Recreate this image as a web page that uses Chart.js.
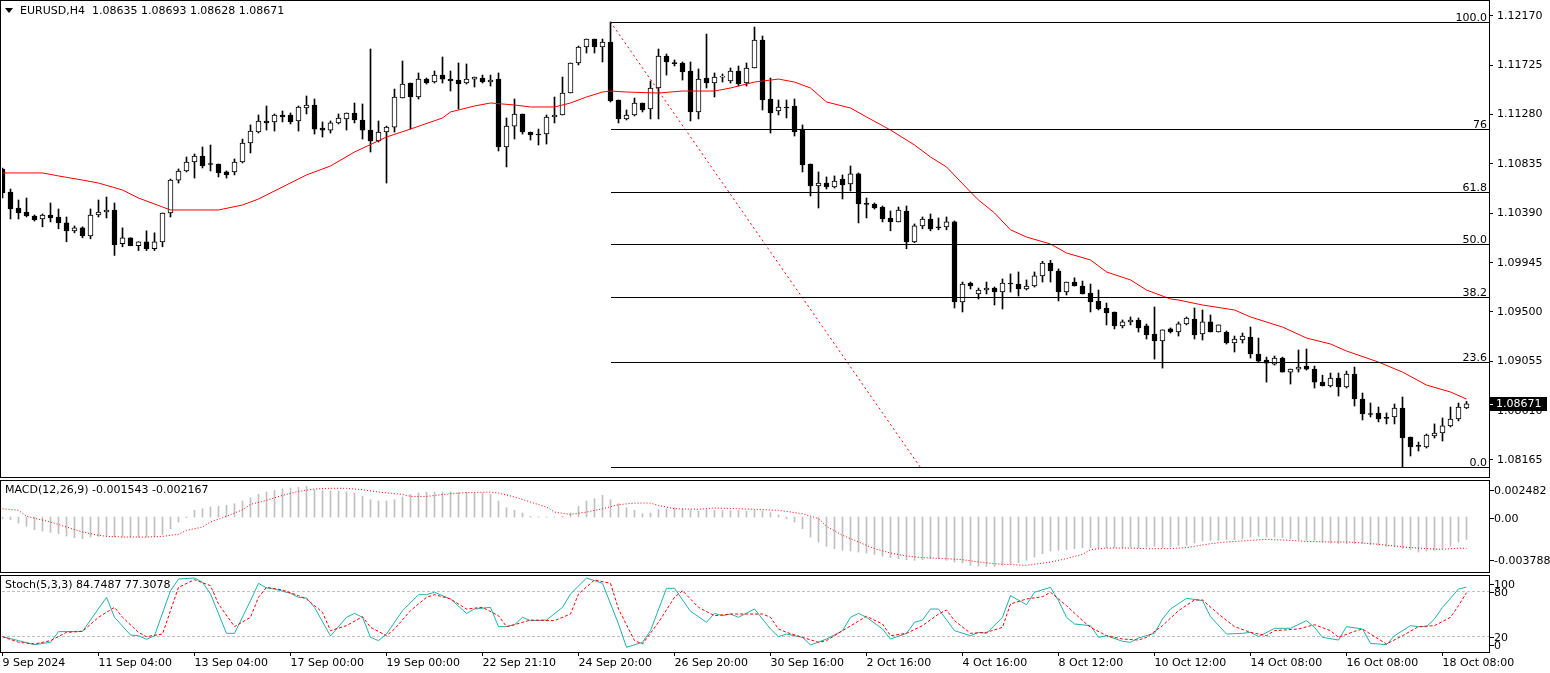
<!DOCTYPE html>
<html>
<head>
<meta charset="utf-8">
<script src="https://cdn.jsdelivr.net/npm/chart.js@4.4.1/dist/chart.umd.min.js"></script>
<style>
  html, body { margin: 0; padding: 0; background: #fff; overflow: hidden; }
  canvas { position: absolute; left: 0; }
  #main { top: 0; }
  #macd { top: 478px; }
  #stoch { top: 575px; }
</style>
</head>
<body>
<canvas id="main" width="1550" height="478"></canvas>
<canvas id="macd" width="1550" height="97"></canvas>
<canvas id="stoch" width="1550" height="98"></canvas>
<script>
// EURUSD H4 candles (one entry per bar)
const barOpen = [
  1.10790,1.10582,1.10438,1.10402,1.10366,1.10339,1.10375,1.10357,1.10303,1.10232,
  1.10259,1.10187,1.10375,1.10402,1.10420,1.10116,1.10169,1.10097,1.10133,1.10070,
  1.10133,1.10393,1.10690,1.10772,1.10853,1.10907,1.10835,1.10835,1.10763,1.10763,
  1.10853,1.11024,1.11123,1.11223,1.11214,1.11277,1.11277,1.11223,1.11340,1.11367,
  1.11159,1.11141,1.11205,1.11241,1.11295,1.11232,1.11141,1.11042,1.11123,1.11168,
  1.11430,1.11565,1.11439,1.11601,1.11574,1.11637,1.11601,1.11592,1.11565,1.11601,
  1.11610,1.11574,1.11601,1.10988,1.11177,1.11286,1.11123,1.11105,1.11105,1.11259,
  1.11277,1.11475,1.11746,1.11890,1.11962,1.11890,1.11935,1.11412,1.11241,1.11277,
  1.11385,1.11331,1.11520,1.11809,1.11746,1.11746,1.11674,1.11304,1.11610,1.11565,
  1.11619,1.11583,1.11674,1.11565,1.11701,1.11953,1.11421,1.11313,1.11349,1.11358,
  1.11150,1.10835,1.10636,1.10663,1.10627,1.10699,1.10654,1.10745,1.10474,1.10474,
  1.10447,1.10348,1.10312,1.10411,1.10133,1.10276,1.10339,1.10268,1.10268,1.10312,
  1.09590,1.09761,1.09662,1.09698,1.09716,1.09680,1.09761,1.09752,1.09707,1.09734,
  1.09825,1.09942,1.09870,1.09680,1.09770,1.09734,1.09671,1.09599,1.09536,1.09500,
  1.09374,1.09410,1.09428,1.09374,1.09301,1.09238,1.09347,1.09319,1.09392,1.09437,
  1.09301,1.09410,1.09319,1.09319,1.09220,1.09247,1.09274,1.09121,1.09066,1.09030,
  1.09084,1.08958,1.08985,1.09012,1.08985,1.08867,1.08832,1.08903,1.08823,1.08939,
  1.08715,1.08580,1.08589,1.08544,1.08553,1.08634,1.08372,1.08291,1.08282,1.08381,
  1.08408,1.08472,1.08535,1.08635
];
const barHigh = [
  1.10799,1.10609,1.10510,1.10528,1.10375,1.10384,1.10483,1.10429,1.10357,1.10276,
  1.10268,1.10429,1.10510,1.10537,1.10483,1.10259,1.10169,1.10133,1.10232,1.10214,
  1.10393,1.10699,1.10790,1.10898,1.10925,1.10988,1.11006,1.10835,1.10772,1.10880,
  1.11060,1.11187,1.11277,1.11358,1.11286,1.11313,1.11295,1.11358,1.11448,1.11421,
  1.11214,1.11223,1.11286,1.11295,1.11385,1.11376,1.11872,1.11223,1.11177,1.11511,
  1.11764,1.11565,1.11656,1.11610,1.11674,1.11800,1.11674,1.11746,1.11737,1.11619,
  1.11637,1.11637,1.11656,1.11250,1.11421,1.11286,1.11123,1.11150,1.11277,1.11439,
  1.11619,1.11746,1.11899,1.11962,1.11962,1.11962,1.12116,1.11412,1.11322,1.11430,
  1.11385,1.11583,1.11872,1.11827,1.11773,1.11755,1.11755,1.11692,1.12007,1.11656,
  1.11647,1.11701,1.11719,1.11746,1.12070,1.11989,1.11610,1.11412,1.11412,1.11421,
  1.11187,1.10835,1.10763,1.10718,1.10727,1.10736,1.10817,1.10754,1.10528,1.10483,
  1.10456,1.10411,1.10447,1.10456,1.10294,1.10357,1.10384,1.10348,1.10357,1.10321,
  1.09770,1.09770,1.09716,1.09770,1.09725,1.09798,1.09843,1.09861,1.09789,1.09861,
  1.09957,1.09966,1.09888,1.09770,1.09808,1.09779,1.09752,1.09698,1.09581,1.09500,
  1.09428,1.09455,1.09446,1.09392,1.09545,1.09338,1.09356,1.09410,1.09455,1.09536,
  1.09518,1.09473,1.09383,1.09328,1.09283,1.09310,1.09364,1.09265,1.09093,1.09103,
  1.09093,1.08985,1.09157,1.09166,1.09012,1.08930,1.08949,1.08949,1.08967,1.09003,
  1.08769,1.08679,1.08643,1.08589,1.08670,1.08733,1.08372,1.08327,1.08399,1.08490,
  1.08544,1.08643,1.08679,1.08693
];
const barLow = [
  1.10528,1.10339,1.10339,1.10357,1.10321,1.10268,1.10312,1.10250,1.10133,1.10214,
  1.10169,1.10160,1.10357,1.10348,1.10010,1.10088,1.10097,1.10054,1.10054,1.10054,
  1.10088,1.10357,1.10663,1.10763,1.10708,1.10799,1.10772,1.10718,1.10708,1.10736,
  1.10844,1.10934,1.11114,1.11141,1.11132,1.11214,1.11196,1.11132,1.11286,1.11105,
  1.11078,1.11114,1.11196,1.11141,1.11205,1.11060,1.10943,1.11033,1.10663,1.11123,
  1.11430,1.11150,1.11421,1.11556,1.11565,1.11565,1.11493,1.11331,1.11556,1.11529,
  1.11565,1.11538,1.10952,1.10808,1.11060,1.11105,1.11051,1.11006,1.11015,1.11205,
  1.11277,1.11475,1.11728,1.11836,1.11836,1.11755,1.11394,1.11205,1.11232,1.11268,
  1.11304,1.11241,1.11241,1.11637,1.11719,1.11592,1.11223,1.11241,1.11520,1.11439,
  1.11574,1.11565,1.11538,1.11538,1.11701,1.11322,1.11114,1.11277,1.11250,1.11087,
  1.10763,1.10546,1.10438,1.10609,1.10618,1.10519,1.10591,1.10303,1.10348,1.10429,
  1.10312,1.10232,1.10312,1.10070,1.10125,1.10250,1.10232,1.10241,1.10241,1.09536,
  1.09500,1.09707,1.09617,1.09662,1.09563,1.09527,1.09680,1.09644,1.09698,1.09725,
  1.09770,1.09770,1.09599,1.09653,1.09734,1.09662,1.09500,1.09518,1.09383,1.09347,
  1.09356,1.09383,1.09319,1.09256,1.09075,1.08994,1.09310,1.09283,1.09383,1.09256,
  1.09247,1.09319,1.09319,1.09211,1.09139,1.09220,1.09084,1.09048,1.08867,1.09021,
  1.08958,1.08850,1.08958,1.08976,1.08814,1.08832,1.08823,1.08742,1.08814,1.08652,
  1.08526,1.08553,1.08508,1.08490,1.08490,1.08102,1.08201,1.08246,1.08273,1.08363,
  1.08336,1.08463,1.08517,1.08628
];
const barClose = [
  1.10573,1.10429,1.10393,1.10366,1.10330,1.10375,1.10348,1.10303,1.10232,1.10259,
  1.10187,1.10375,1.10402,1.10420,1.10106,1.10169,1.10097,1.10133,1.10070,1.10133,
  1.10393,1.10690,1.10772,1.10853,1.10907,1.10817,1.10830,1.10754,1.10736,1.10853,
  1.11024,1.11132,1.11223,1.11205,1.11277,1.11259,1.11214,1.11349,1.11367,1.11150,
  1.11141,1.11205,1.11250,1.11295,1.11232,1.11141,1.11042,1.11123,1.11168,1.11439,
  1.11556,1.11439,1.11601,1.11565,1.11637,1.11601,1.11583,1.11556,1.11601,1.11619,
  1.11574,1.11592,1.10988,1.11177,1.11286,1.11123,1.11096,1.11096,1.11259,1.11277,
  1.11475,1.11746,1.11890,1.11962,1.11890,1.11935,1.11403,1.11241,1.11277,1.11385,
  1.11322,1.11520,1.11809,1.11755,1.11740,1.11665,1.11304,1.11601,1.11565,1.11619,
  1.11622,1.11674,1.11556,1.11701,1.11953,1.11412,1.11295,1.11349,1.11340,1.11123,
  1.10826,1.10636,1.10663,1.10627,1.10681,1.10645,1.10745,1.10474,1.10470,1.10438,
  1.10339,1.10312,1.10420,1.10133,1.10276,1.10339,1.10250,1.10259,1.10312,1.09590,
  1.09752,1.09734,1.09698,1.09716,1.09680,1.09761,1.09752,1.09707,1.09734,1.09825,
  1.09942,1.09870,1.09680,1.09770,1.09734,1.09662,1.09590,1.09527,1.09491,1.09374,
  1.09410,1.09428,1.09356,1.09292,1.09238,1.09338,1.09319,1.09392,1.09446,1.09292,
  1.09410,1.09319,1.09383,1.09220,1.09256,1.09283,1.09121,1.09057,1.09039,1.09084,
  1.08958,1.08985,1.09003,1.08985,1.08867,1.08832,1.08903,1.08823,1.08939,1.08715,
  1.08580,1.08575,1.08535,1.08540,1.08634,1.08363,1.08282,1.08288,1.08390,1.08408,
  1.08472,1.08535,1.08643,1.08671
];

// moving average (red line), sampled along the curve
const maBars = [0,5,7,10,12,15,17,20,21,27,30,32,38,41,44,48,51,55,56,59,61,64,66,69,71,73,75,76,78,82,
  85,89,91,94,97,99,101,103,106,108,111,114,116,118,121,122,124,126,128,131,133,136,138,141,143,146,147,150,154,156,
  160,163,166,168,172,175,178,181,183];
const maValues = [1.10754,1.10754,1.10727,1.10690,1.10663,1.10600,1.10528,1.10447,1.10420,1.10420,
  1.10465,1.10519,1.10736,1.10817,1.10943,1.11078,1.11150,1.11250,1.11304,1.11358,
  1.11385,1.11367,1.11349,1.11349,1.11385,1.11439,1.11484,1.11493,1.11484,1.11475,
  1.11493,1.11493,1.11520,1.11574,1.11601,1.11574,1.11520,1.11394,1.11340,1.11259,
  1.11141,1.11006,1.10898,1.10808,1.10582,1.10510,1.10393,1.10241,1.10176,1.10113,
  1.10032,1.09969,1.09861,1.09789,1.09698,1.09617,1.09608,1.09563,1.09518,1.09455,
  1.09364,1.09265,1.09211,1.09148,1.09048,1.08958,1.08841,1.08778,1.08715];

// MACD(12,26,9) main (grey histogram), one per bar
const macdHist = [
  -0.000115,-0.000184,-0.000413,-0.000643,-0.000873,-0.000965,-0.001057,-0.001149,-0.001309,-0.001424,
  -0.001493,-0.001378,-0.001332,-0.001332,-0.001378,-0.001378,-0.001378,-0.001378,-0.001378,-0.001332,
  -0.001194,-0.000804,-0.000345,-0.000046,0.000459,0.000574,0.000689,0.000735,0.000804,0.000919,
  0.001103,0.001332,0.001562,0.001723,0.001838,0.001952,0.001998,0.002044,0.002113,0.001884,
  0.001838,0.001792,0.001792,0.001723,0.001654,0.001424,0.001194,0.001103,0.001103,0.001194,
  0.001378,0.001562,0.001654,0.001723,0.001723,0.001723,0.001723,0.001700,0.001700,0.001654,
  0.001654,0.001562,0.001103,0.000643,0.000459,0.000276,0.000046,0.000020,-0.000020,0.000010,
  0.000046,0.000276,0.000735,0.001103,0.001263,0.001493,0.001194,0.000919,0.000643,0.000459,
  0.000230,0.000276,0.000505,0.000574,0.000643,0.000574,0.000459,0.000413,0.000505,0.000459,
  0.000459,0.000459,0.000459,0.000413,0.000459,0.000413,0.000300,0.000150,-0.000115,-0.000345,
  -0.000804,-0.001378,-0.001723,-0.002021,-0.002182,-0.002297,-0.002343,-0.002412,-0.002481,-0.002573,
  -0.002710,-0.002802,-0.002871,-0.002940,-0.002986,-0.002940,-0.002871,-0.002871,-0.002986,-0.003101,
  -0.003170,-0.003331,-0.003400,-0.003400,-0.003400,-0.003331,-0.003262,-0.003170,-0.002986,-0.002756,
  -0.002527,-0.002343,-0.002297,-0.002251,-0.002182,-0.002113,-0.002113,-0.002113,-0.002113,-0.002113,
  -0.002113,-0.002067,-0.002113,-0.002067,-0.002021,-0.002113,-0.002067,-0.001952,-0.001952,-0.001792,
  -0.001654,-0.001608,-0.001608,-0.001562,-0.001562,-0.001493,-0.001378,-0.001332,-0.001378,-0.001378,
  -0.001424,-0.001493,-0.001562,-0.001608,-0.001608,-0.001723,-0.001792,-0.001838,-0.001838,-0.001838,
  -0.001838,-0.001906,-0.001952,-0.002021,-0.002067,-0.002182,-0.002251,-0.002412,-0.002343,-0.002297,
  -0.002182,-0.002021,-0.001723,-0.001543
];
// MACD signal (red dotted)
const macdSigBars = [0,2,3,6,8,10,12,13,15,18,20,22,23,25,26,28,30,31,33,35,37,39,41,43,45,47,50,51,53,56,
  58,61,62,64,66,68,69,71,73,75,77,79,81,82,84,87,89,92,94,97,100,102,103,105,107,109,111,113,115,118,
  120,122,124,126,128,129,131,133,135,136,138,141,143,146,148,149,151,153,156,158,161,163,166,168,170,172,174,176,178,180,
  182,183];
const macdSigVals = [0.00057,0.00046,0.00005,-0.00034,-0.00069,-0.00103,-0.00126,-0.00133,-0.00138,-0.00138,
  -0.00133,-0.00119,-0.00092,-0.00069,-0.00034,0.00005,0.00050,0.00087,0.00115,0.00149,
  0.00177,0.00193,0.00198,0.00198,0.00188,0.00172,0.00156,0.00142,0.00142,0.00161,
  0.00168,0.00172,0.00165,0.00138,0.00103,0.00069,0.00034,0.00018,0.00034,0.00057,
  0.00085,0.00096,0.00096,0.00080,0.00057,0.00053,0.00062,0.00057,0.00053,0.00046,
  0.00023,-0.00011,-0.00064,-0.00126,-0.00172,-0.00218,-0.00248,-0.00269,-0.00280,-0.00287,
  -0.00294,-0.00310,-0.00322,-0.00328,-0.00333,-0.00326,-0.00310,-0.00287,-0.00257,-0.00225,
  -0.00214,-0.00214,-0.00218,-0.00218,-0.00211,-0.00202,-0.00184,-0.00172,-0.00161,-0.00154,
  -0.00161,-0.00168,-0.00172,-0.00172,-0.00179,-0.00188,-0.00200,-0.00211,-0.00218,-0.00223,
  -0.00214,-0.002167];

// Stochastic(5,3,3)
const stochMainBars = [0,2,4,6,7,10,13,14,16,17,18,19,21,22,24,25,26,28,29,31,32,33,34,36,37,38,39,41,43,44,
  45,46,47,48,50,52,53,54,56,58,59,61,62,63,64,65,66,68,70,71,73,74,75,77,78,80,81,83,84,86,
  88,89,90,91,92,94,95,96,97,98,100,101,103,105,106,107,108,110,111,113,114,115,116,117,119,121,122,123,125,126,
  128,129,131,132,133,134,136,137,138,140,141,142,144,145,146,148,150,151,153,155,156,157,159,161,163,164,165,167,168,170,
  171,173,174,176,177,178,179,180,182,183];
const stochMainVals = [19.5,14.3,9.0,12.1,26.1,26.5,71.3,45.0,21.7,20.8,16.0,20.8,80.0,95.4,96.7,91.0,75.7,23.9,23.9,66.9,
  89.7,83.6,82.2,76.5,71.3,70.4,58.1,20.4,45.0,50.2,45.0,18.6,14.3,23.0,53.7,74.8,74.8,77.9,69.1,50.2,
  55.9,58.1,32.7,32.7,35.3,45.0,40.6,41.4,58.1,75.7,96.7,93.2,89.7,36.2,5.5,12.1,27.4,83.1,83.1,52.9,
  38.4,50.2,47.1,49.3,45.0,55.9,42.8,29.6,19.5,23.0,18.6,8.6,16.4,27.4,45.0,50.2,45.0,29.6,16.4,23.9,
  38.4,41.4,55.9,55.9,27.4,20.8,25.2,23.9,45.0,73.5,61.6,77.9,84.4,66.9,45.0,36.2,34.0,18.6,20.8,13.4,
  12.1,17.8,23.9,42.8,55.9,70.0,66.9,45.8,23.0,23.9,25.2,19.5,30.5,30.5,40.6,31.8,18.6,15.1,32.7,29.6,
  10.7,9.0,20.8,34.0,32.7,32.7,42.8,58.1,82.2,84.7487];
const stochSigBars = [0,2,4,6,8,10,12,14,15,17,18,20,21,22,24,26,27,29,31,32,33,35,37,38,40,41,43,45,46,48,
  49,51,53,54,56,58,60,62,63,64,66,69,71,72,74,76,77,79,80,82,84,85,87,89,91,93,95,96,97,98,
  100,102,103,105,108,110,111,113,115,117,118,119,121,123,125,126,128,130,131,133,135,136,138,140,142,143,145,147,149,150,
  152,154,156,158,159,162,164,166,167,169,170,172,173,175,177,179,181,182,183];
const stochSigVals = [19.5,12.1,9.9,14.3,25.2,26.5,45.0,58.1,45.0,25.2,19.5,23.0,53.7,84.4,94.5,86.6,62.5,32.7,45.0,71.3,
  84.4,80.9,73.5,69.1,51.5,27.4,34.0,45.8,31.8,20.8,29.6,53.7,71.3,74.8,69.1,55.9,58.1,47.1,32.7,35.3,
  41.4,40.6,49.3,75.7,94.1,89.7,55.9,14.3,9.9,38.4,71.3,80.0,58.1,47.1,49.3,49.3,49.3,45.0,29.6,25.2,
  18.6,12.1,14.3,27.4,46.3,36.2,20.8,23.9,34.0,49.3,54.6,40.6,23.9,25.2,31.8,62.5,69.1,72.1,77.9,60.3,
  40.6,31.8,20.8,16.4,15.1,18.6,34.0,53.7,67.8,67.8,49.3,32.7,25.2,20.8,27.4,29.6,35.3,27.4,18.6,26.5,
  29.6,16.4,9.9,20.8,32.7,34.0,45.0,60.3,77.3078];

// axes
const priceTicks = [1.12170,1.11725,1.11280,1.10835,1.10390,1.09945,1.09500,1.09055,1.08610,1.08165];
const macdTickVals = [0.002482, 0, -0.003788];
const macdTickText = ['0.002482', '0.00', '-0.003788'];
const stochTickVals = [100, 80, 20, 0];
const xTickBars = [0,12,24,36,48,60,72,84,96,108,120,132,144,156,168,180];
const xTickLabels = ['9 Sep 2024','11 Sep 04:00','13 Sep 04:00','17 Sep 00:00','19 Sep 00:00','22 Sep 21:10',
  '24 Sep 20:00','26 Sep 20:00','30 Sep 16:00','2 Oct 16:00','4 Oct 16:00','8 Oct 12:00','10 Oct 12:00',
  '14 Oct 08:00','16 Oct 08:00','18 Oct 08:00'];

// fibonacci retracement object
const fibLevels = [100.0, 76, 61.8, 50.0, 38.2, 23.6, 0.0];
const fibLabels = ['100.0','76','61.8','50.0','38.2','23.6','0.0'];
const fibHigh = 1.12116, fibLow = 1.08102;
const fibStartBar = 76, fibEndBar = 114.7;

const lastPrice = 1.08671;

// ---------------------------------------------------------------------------
const X_MIN = -0.0625, X_MAX = 185.8125;
const FONT = { family: 'DejaVu Sans', size: 11 };
const FONT_CSS = '11px "DejaVu Sans"';
const idx = barOpen.map((_, i) => i);

function zeroPad(s) { s.paddingTop = 0; s.paddingBottom = 0; s.paddingLeft = 0; s.paddingRight = 0; }

function baseOptions(padding) {
  return {
    responsive: false, animation: false, devicePixelRatio: 1, events: [],
    layout: { padding: padding, autoPadding: false },
    plugins: { legend: { display: false }, tooltip: { enabled: false } }
  };
}
function hiddenX() {
  return { type: 'linear', min: X_MIN, max: X_MAX, offset: false, display: false, grid: { offset: false } };
}
function blankRight(min, max) {
  return {
    type: 'linear', position: 'right', min: min, max: max, display: true,
    afterFit: s => { s.width = 61; zeroPad(s); },
    ticks: { display: false }, grid: { display: false }, border: { display: false }
  };
}
function fibPrice(lv) { return fibLow + (fibHigh - fibLow) * lv / 100; }

// white background for every canvas
const whiteBg = {
  id: 'whiteBg',
  beforeDraw(chart) {
    const c = chart.ctx;
    c.save(); c.fillStyle = '#fff'; c.fillRect(0, 0, chart.width, chart.height); c.restore();
  }
};

// fib lines, labels, header, frame and current price box
const mainDecor = {
  id: 'mainDecor',
  afterDatasetsDraw(chart) {
    const c = chart.ctx, ys = chart.scales.y, xs = chart.scales.x;
    const x0 = Math.round(xs.getPixelForValue(fibStartBar));
    c.save();
    c.strokeStyle = '#000'; c.lineWidth = 1;
    c.font = FONT_CSS; c.fillStyle = '#000'; c.textAlign = 'right'; c.textBaseline = 'alphabetic';
    fibLevels.forEach((lv, k) => {
      const py = Math.round(ys.getPixelForValue(fibPrice(lv))) + 0.5;
      c.beginPath(); c.moveTo(x0, py); c.lineTo(chart.chartArea.right, py); c.stroke();
      c.fillText(fibLabels[k], 1487, py - 2);
    });
    c.restore();
  },
  afterDraw(chart) {
    const c = chart.ctx, ys = chart.scales.y;
    c.save();
    // frame
    c.strokeStyle = '#000'; c.lineWidth = 1;
    c.strokeRect(0.5, 0.5, 1489, 477);
    // header
    c.fillStyle = '#000';
    c.beginPath(); c.moveTo(5, 8); c.lineTo(13, 8); c.lineTo(9, 13); c.closePath(); c.fill();
    c.font = FONT_CSS; c.textAlign = 'left'; c.textBaseline = 'middle';
    c.fillText('EURUSD,H4  1.08635 1.08693 1.08628 1.08671', 20, 11);
    // current price box
    const py = Math.round(ys.getPixelForValue(lastPrice));
    c.fillStyle = '#000';
    c.fillRect(1490, py - 7, 57, 14);
    c.fillStyle = '#fff';
    c.fillText(lastPrice.toFixed(5), 1496, py + 0.5);
    c.fillRect(1490, py, 3, 1);
    c.restore();
  }
};

new Chart(document.getElementById('main'), {
  type: 'bar',
  data: {
    datasets: [
      { type: 'line', data: maBars.map((b, k) => ({ x: b, y: maValues[k] })),
        borderColor: '#ff0000', borderWidth: 1, pointRadius: 0, tension: 0, order: 0 },
      { type: 'line', data: [{ x: fibStartBar, y: fibHigh }, { x: fibEndBar, y: fibLow }],
        borderColor: '#ff0000', borderWidth: 1, borderDash: [2, 3], pointRadius: 0, order: 1 },
      { type: 'bar', data: idx.map(i => ({ x: i, y: [barOpen[i], barClose[i]] })),
        backgroundColor: idx.map(i => barClose[i] >= barOpen[i] ? '#ffffff' : '#000000'),
        borderColor: '#000', borderWidth: 1, borderSkipped: false,
        barThickness: 5, minBarLength: 1, grouped: false, order: 2 },
      { type: 'bar', data: idx.map(i => ({ x: i, y: [barLow[i], barHigh[i]] })),
        backgroundColor: '#000', barThickness: 1, grouped: false, order: 3 }
    ]
  },
  options: Object.assign(baseOptions({ left: 2, top: 1, right: 0, bottom: 2 }), {
    scales: {
      x: hiddenX(),
      y: {
        type: 'linear', position: 'right', min: 1.080205, max: 1.12305,
        afterBuildTicks: s => { s.ticks = priceTicks.map(v => ({ value: v })); },
        afterFit: s => { s.width = 61; zeroPad(s); },
        ticks: { autoSkip: false, color: '#000', font: FONT, padding: 4, callback: v => Number(v).toFixed(5) },
        grid: { drawOnChartArea: false, drawTicks: true, tickLength: 4, color: '#000' },
        border: { display: true, color: '#000' }
      }
    }
  }),
  plugins: [whiteBg, mainDecor]
});

// right-hand labels for indicator windows
function sideLabels(vals, texts, topShift, bottomShift, title) {
  return {
    id: 'sideLabels',
    afterDraw(chart) {
      const c = chart.ctx, ys = chart.scales.y, a = chart.chartArea;
      c.save();
      c.strokeStyle = '#000'; c.lineWidth = 1;
      c.strokeRect(0.5, a.top - 0.5, 1489, a.bottom - a.top + 1);
      c.font = FONT_CSS; c.fillStyle = '#000'; c.textBaseline = 'middle'; c.textAlign = 'left';
      vals.forEach((v, k) => {
        let py = ys.getPixelForValue(v) + 1;
        py = Math.round(Math.min(Math.max(py, a.top + topShift), a.bottom - bottomShift));
        c.beginPath(); c.moveTo(1490, py + 0.5); c.lineTo(1494, py + 0.5); c.stroke();
        c.fillText(texts[k], 1494, py + 1);
      });
      c.fillText(title, 5, a.top + 9);
      c.restore();
    }
  };
}

new Chart(document.getElementById('macd'), {
  type: 'bar',
  data: {
    datasets: [
      { type: 'line', data: macdSigBars.map((b, k) => ({ x: b, y: macdSigVals[k] })),
        borderColor: '#ff0000', borderWidth: 1, borderDash: [1, 2], pointRadius: 0, order: 0 },
      { type: 'bar', data: idx.map(i => ({ x: i, y: macdHist[i] })),
        backgroundColor: '#c0c0c0', barThickness: 1, order: 1 }
    ]
  },
  options: Object.assign(baseOptions({ left: 2, top: 3, right: 0, bottom: 3 }), {
    scales: { x: hiddenX(), y: blankRight(-0.003788, 0.002482) }
  }),
  plugins: [whiteBg, sideLabels(macdTickVals, macdTickText, 9, 12, 'MACD(12,26,9) -0.001543 -0.002167')]
});

const stochLevels = {
  id: 'stochLevels',
  beforeDatasetsDraw(chart) {
    const c = chart.ctx, ys = chart.scales.y, a = chart.chartArea;
    c.save();
    c.strokeStyle = '#c0c0c0'; c.lineWidth = 1; c.setLineDash([3, 2]);
    [80, 20].forEach(v => {
      const py = Math.round(ys.getPixelForValue(v)) + 0.5;
      c.beginPath(); c.moveTo(a.left, py); c.lineTo(a.right, py); c.stroke();
    });
    c.restore();
  }
};

new Chart(document.getElementById('stoch'), {
  type: 'line',
  data: {
    datasets: [
      { data: stochMainBars.map((b, k) => ({ x: b, y: stochMainVals[k] })),
        borderColor: '#20b2aa', borderWidth: 1, pointRadius: 0, tension: 0, order: 1 },
      { data: stochSigBars.map((b, k) => ({ x: b, y: stochSigVals[k] })),
        borderColor: '#ff0000', borderWidth: 1, borderDash: [3, 2], pointRadius: 0, tension: 0, order: 0 }
    ]
  },
  options: Object.assign(baseOptions({ left: 2, top: 1, right: 0, bottom: 0 }), {
    scales: {
      x: {
        type: 'linear', min: X_MIN, max: X_MAX, offset: false,
        afterBuildTicks: s => { s.ticks = xTickBars.map(v => ({ value: v })); },
        afterFit: s => { s.height = 21; zeroPad(s); },
        ticks: { autoSkip: false, maxRotation: 0, align: 'start', color: '#000', font: FONT, padding: 1,
                 callback: (v, i) => xTickLabels[i] },
        grid: { drawOnChartArea: false, drawTicks: true, tickLength: 4, color: '#000', offset: false },
        border: { display: true, color: '#000' }
      },
      y: blankRight(-0.66, 99.34)
    }
  }),
  plugins: [whiteBg, stochLevels, sideLabels(stochTickVals, ['100', '80', '20', '0'], 8, 7, 'Stoch(5,3,3) 84.7487 77.3078')]
});
</script>
</body>
</html>
